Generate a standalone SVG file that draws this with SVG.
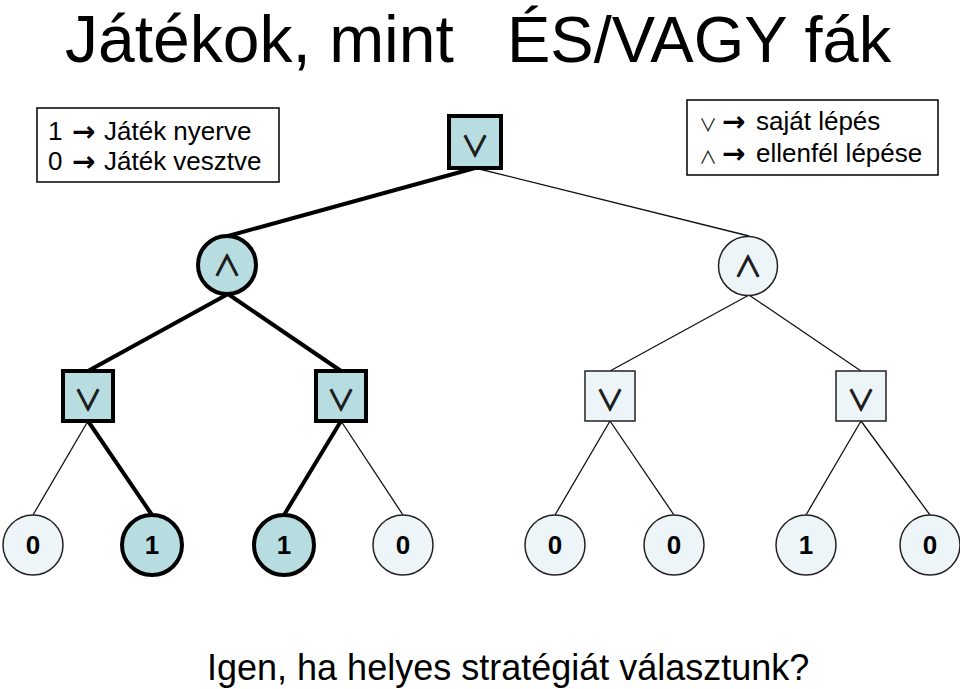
<svg xmlns="http://www.w3.org/2000/svg" width="960" height="689" viewBox="0 0 960 689">
<style>
.t{font-family:"Liberation Sans",Arial,sans-serif;fill:#000}
.ar{font-family:"DejaVu Sans",sans-serif;font-weight:bold;fill:#000}
.sym{font-family:"Noto Sans CJK SC","DejaVu Sans",sans-serif;fill:#1a1a1a;text-anchor:middle}
.ns{font-size:28px;stroke:#1a1a1a;stroke-width:1}
.hi{fill:#b7dde1;stroke:#000;stroke-width:4}
.lo{fill:#eef5f8;stroke:#222;stroke-width:1.5}
.num{font-family:"Liberation Sans",Arial,sans-serif;font-weight:bold;font-size:26px;text-anchor:middle;fill:#000}
.e1{stroke:#000;stroke-width:4;fill:none}
.e0{stroke:#111;stroke-width:1.3;fill:none}
.box{fill:#fff;stroke:#000;stroke-width:1.5}
</style>
<rect width="960" height="689" fill="#fff"/>
<text class="t" x="65" y="62" font-size="66">Játékok, mint</text>
<text class="t" x="507" y="62" font-size="65">ÉS/VAGY fák</text>

<g id="legend-left">
<rect class="box" x="37" y="108" width="242" height="74"/>
<text class="t" font-size="26" x="48" y="140">1</text>
<text class="ar" font-size="28" x="72" y="141">→</text>
<text class="t" font-size="26" x="104" y="140">Játék nyerve</text>
<text class="t" font-size="26" x="48" y="170">0</text>
<text class="ar" font-size="28" x="72" y="171">→</text>
<text class="t" font-size="26" x="104" y="170">Játék vesztve</text>
</g>
<g id="legend-right">
<rect class="box" x="687" y="100" width="251" height="75"/>
<text class="sym" font-size="18" x="708" y="132">∨</text>
<text class="ar" font-size="28" x="722" y="131">→</text>
<text class="t" font-size="26" x="756" y="130">saját lépés</text>
<text class="sym" font-size="18" x="708" y="164">∧</text>
<text class="ar" font-size="28" x="722" y="163">→</text>
<text class="t" font-size="26" x="756" y="162">ellenfél lépése</text>
</g>

<g id="connectors">
<line class="e1" x1="475" y1="168" x2="228" y2="236"/>
<line class="e0" x1="475" y1="168" x2="749" y2="236"/>
<line class="e1" x1="228" y1="294" x2="88" y2="371"/>
<line class="e1" x1="228" y1="294" x2="341" y2="371"/>
<line class="e0" x1="749" y1="295" x2="610" y2="371"/>
<line class="e0" x1="749" y1="295" x2="861" y2="371"/>
<line class="e0" x1="88" y1="421" x2="33" y2="515"/>
<line class="e1" x1="88" y1="421" x2="152" y2="515"/>
<line class="e1" x1="341" y1="421" x2="284" y2="515"/>
<line class="e0" x1="341" y1="421" x2="403" y2="515"/>
<line class="e0" x1="610" y1="421" x2="555" y2="515"/>
<line class="e0" x1="610" y1="421" x2="674" y2="515"/>
<line class="e0" x1="861" y1="421" x2="806" y2="515"/>
<line class="e0" x1="861" y1="421" x2="930" y2="515"/>
</g>

<g id="root"><rect class="hi" x="449" y="116" width="52" height="52"/><text class="sym ns" x="475" y="157">∨</text></g>
<g id="and-left"><circle class="hi" cx="227" cy="265" r="29"/><text class="sym ns" x="227" y="276">∧</text></g>
<g id="and-right"><circle class="lo" cx="748" cy="266" r="29.5"/><text class="sym ns" x="748" y="277">∧</text></g>
<g id="or-1"><rect class="hi" x="63" y="371" width="50" height="50"/><text class="sym ns" x="88" y="411">∨</text></g>
<g id="or-2"><rect class="hi" x="316" y="371" width="50" height="50"/><text class="sym ns" x="341" y="411">∨</text></g>
<g id="or-3"><rect class="lo" x="585" y="371" width="50" height="50"/><text class="sym ns" x="610" y="411">∨</text></g>
<g id="or-4"><rect class="lo" x="836" y="371" width="50" height="50"/><text class="sym ns" x="861" y="411">∨</text></g>

<g id="leaf-1"><circle class="lo" cx="33" cy="545" r="30"/><text class="num" x="33" y="554">0</text></g>
<g id="leaf-2"><circle class="hi" cx="152" cy="545" r="30"/><text class="num" x="152" y="554">1</text></g>
<g id="leaf-3"><circle class="hi" cx="284" cy="545" r="30"/><text class="num" x="284" y="554">1</text></g>
<g id="leaf-4"><circle class="lo" cx="403" cy="545" r="30"/><text class="num" x="403" y="554">0</text></g>
<g id="leaf-5"><circle class="lo" cx="555" cy="545" r="30"/><text class="num" x="555" y="554">0</text></g>
<g id="leaf-6"><circle class="lo" cx="674" cy="545" r="30"/><text class="num" x="674" y="554">0</text></g>
<g id="leaf-7"><circle class="lo" cx="806" cy="545" r="30"/><text class="num" x="806" y="554">1</text></g>
<g id="leaf-8"><circle class="lo" cx="930" cy="545" r="30"/><text class="num" x="930" y="554">0</text></g>

<text class="t" x="207" y="680" font-size="36">Igen, ha helyes stratégiát választunk?</text>
</svg>
